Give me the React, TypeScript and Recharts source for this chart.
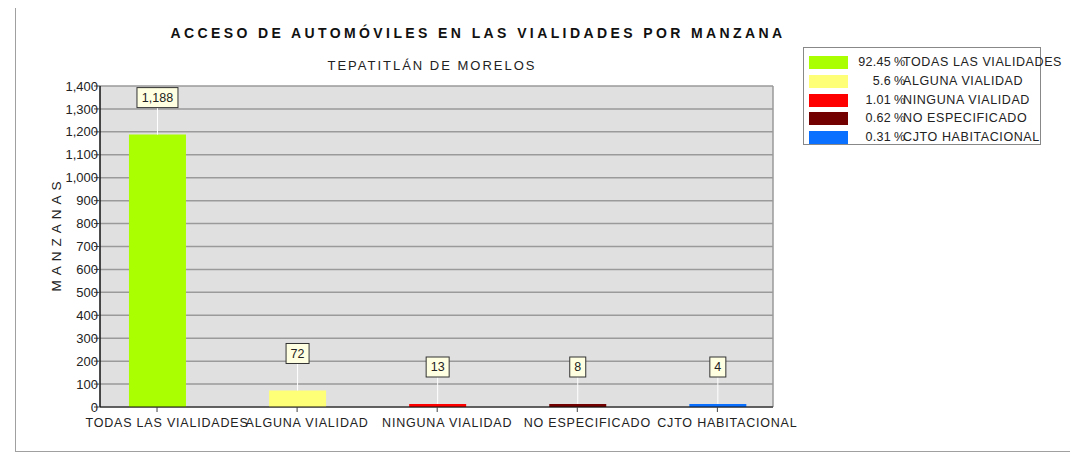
import React from 'react';
import {
  BarChart,
  Bar,
  XAxis,
  YAxis,
  CartesianGrid,
  Cell,
  LabelList,
  Legend,
  ReferenceLine,
} from 'recharts';

const categories = [
  'TODAS LAS VIALIDADES',
  'ALGUNA VIALIDAD',
  'NINGUNA VIALIDAD',
  'NO ESPECIFICADO',
  'CJTO HABITACIONAL',
];
const manzanas = [1188, 72, 13, 8, 4];
const percents = ['92.45', '5.6', '1.01', '0.62', '0.31'];
const barColors = ['#AAFF00', '#FFFF77', '#FF0000', '#730000', '#0A70FF'];
const yTicks = [0, 100, 200, 300, 400, 500, 600, 700, 800, 900, 1000, 1100, 1200, 1300, 1400];

const X_DOMAIN: [number, number] = [-0.407, 4.397];
const FONT = '"Liberation Sans", Arial, sans-serif';

const data = categories.map((name, i) => ({ pos: i, name, value: manzanas[i] }));

const fmt = (v: number) => v.toLocaleString('en-US');

function ValueBox(props: any) {
  const { x, y, width, value } = props;
  const cx = x + width / 2;
  const text = fmt(value);
  let w = 9;
  for (const ch of text) w += ch === ',' ? 4 : 7;
  const bottom = y - 27;
  return (
    <g>
      <line x1={cx} x2={cx} y1={bottom} y2={y} stroke="#ffffff" strokeWidth={1} />
      <rect x={cx - w / 2} y={bottom - 20} width={w} height={20} fill="#FFFFE1" stroke="#333" strokeWidth={1} />
      <text x={cx} y={bottom - 10} dy="0.35em" textAnchor="middle" fontSize={12.5} fill="#222" fontFamily={FONT}>
        {text}
      </text>
    </g>
  );
}

// category names sit a little to the right of their tick, as in the original
function CategoryTick(props: any) {
  const { x, y, payload } = props;
  return (
    <text
      x={x + 10}
      y={y}
      dy="0.9em"
      textAnchor="middle"
      fontSize={12.5}
      letterSpacing={0.8}
      fill="#222"
      fontFamily={FONT}
    >
      {categories[payload.value] ?? ''}
    </text>
  );
}

function LegendBox() {
  return (
    <div
      style={{
        position: 'relative',
        width: 238,
        height: 98,
        border: '1px solid #888',
        background: '#fff',
        boxSizing: 'border-box',
        paddingTop: 5,
        fontFamily: FONT,
        fontSize: 12.5,
        color: '#222',
        whiteSpace: 'nowrap',
        overflow: 'visible',
      }}
    >
      {categories.map((c, i) => (
        <div key={c} style={{ position: 'relative', height: 18.8 }}>
          <span style={{ position: 'absolute', left: 5, top: 3, width: 39, height: 13, background: barColors[i] }} />
          <span style={{ position: 'absolute', left: 44, width: 43, top: 2, textAlign: 'right', letterSpacing: 0.3 }}>
            {percents[i]}
          </span>
          <span style={{ position: 'absolute', left: 90, top: 2 }}>%</span>
          <span style={{ position: 'absolute', left: 99, top: 2, letterSpacing: 0.6 }}>{c}</span>
        </div>
      ))}
    </div>
  );
}

export default function App() {
  return (
    <div style={{ position: 'relative', width: 1078, height: 458, margin: '-8px 0 0 -8px', background: '#fff', fontFamily: FONT }}>
      <div
        style={{
          position: 'absolute',
          left: 15,
          top: 1,
          width: 1060,
          height: 451,
          border: '1px solid #a0a0a0',
          boxSizing: 'border-box',
        }}
      />
      <div
        style={{
          position: 'absolute',
          left: 0,
          width: 956,
          top: 25,
          textAlign: 'center',
          fontWeight: 'bold',
          fontSize: 14,
          letterSpacing: 3.4,
          color: '#111',
        }}
      >
        ACCESO DE AUTOMÓVILES EN LAS VIALIDADES POR MANZANA
      </div>
      <div
        style={{
          position: 'absolute',
          left: 0,
          width: 864,
          top: 58,
          textAlign: 'center',
          fontSize: 13,
          letterSpacing: 2,
          color: '#222',
        }}
      >
        TEPATITLÁN DE MORELOS
      </div>
      <div
        style={{
          position: 'absolute',
          left: 56,
          top: 234,
          transform: 'translate(-50%, -50%) rotate(-90deg)',
          fontSize: 13.5,
          letterSpacing: 5,
          color: '#222',
          whiteSpace: 'nowrap',
        }}
      >
        MANZANAS
      </div>
      <div style={{ position: 'absolute', left: 0, top: 0 }}>
        <BarChart
          width={1078}
          height={458}
          data={data}
          margin={{ top: 86, right: 305, bottom: 21, left: 40 }}
        >
          <CartesianGrid vertical={false} stroke="#9a9a9a" strokeWidth={1.5} fill="#E0E0E0" />
          <XAxis
            type="number"
            dataKey="pos"
            domain={X_DOMAIN}
            ticks={[0, 1, 2, 3, 4]}
            interval={0}
            height={30}
            axisLine={{ stroke: '#111', strokeWidth: 1 }}
            tickLine={{ stroke: '#444' }}
            tickSize={5}
            tickMargin={4}
            tick={<CategoryTick />}
            allowDataOverflow
          />
          <YAxis
            domain={[0, 1400]}
            ticks={yTicks}
            interval={0}
            width={60}
            axisLine={{ stroke: '#111', strokeWidth: 1.5 }}
            tickLine={{ stroke: '#444' }}
            tickSize={6}
            tickMargin={-4}
            tickFormatter={fmt}
            tick={{ fontSize: 13, fill: '#222', fontFamily: FONT }}
          />
          <ReferenceLine x={X_DOMAIN[1]} stroke="#9a9a9a" strokeWidth={1.5} ifOverflow="visible" />
          <Legend
            layout="horizontal"
            verticalAlign="middle"
            align="center"
            content={() => <LegendBox />}
            wrapperStyle={{ position: 'absolute', left: 803, top: 47, width: 238, height: 98 }}
          />
          <Bar dataKey="value" barSize={57} minPointSize={3} isAnimationActive={false}>
            {data.map((d, i) => (
              <Cell key={d.name} fill={barColors[i]} />
            ))}
            <LabelList dataKey="value" content={ValueBox} />
          </Bar>
        </BarChart>
      </div>
    </div>
  );
}
